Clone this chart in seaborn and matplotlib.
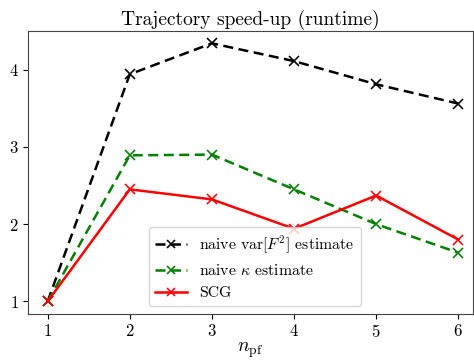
import matplotlib
matplotlib.use("Agg")
import matplotlib.pyplot as plt
import seaborn as sns
import pandas as pd

n_pf = [1, 2, 3, 4, 5, 6]
naive_var = [1.0, 3.94, 4.34, 4.11, 3.81, 3.56]
naive_kappa = [1.0, 2.89, 2.90, 2.45, 2.00, 1.63]
scg = [1.0, 2.45, 2.32, 1.94, 2.37, 1.80]
labels = [r"naive var$[F^2]$ estimate", r"naive $\kappa$ estimate", "SCG"]

plt.rcParams["font.family"] = "serif"
plt.rcParams["font.serif"] = ["cmr10", "DejaVu Serif"]
plt.rcParams["mathtext.fontset"] = "cm"
plt.rcParams["axes.formatter.use_mathtext"] = True

fig = plt.figure(figsize=(4.74, 3.6), dpi=100)
ax = fig.add_axes([0.059, 0.127, 0.939, 0.787])

styles = [("black", (0, (4, 2.2))), ("green", (0, (4, 2.2))), ("red", "-")]
for ys, lab, (c, ls) in zip([naive_var, naive_kappa, scg], labels, styles):
    df = pd.DataFrame({"x": n_pf, "y": ys})
    sns.lineplot(data=df, x="x", y="y", ax=ax, color=c, linestyle=ls,
                 marker="x", markersize=7, markeredgewidth=1.15,
                 markeredgecolor=c, markerfacecolor=c,
                 linewidth=1.8, label=lab)

ax.set_xlim(0.76, 6.18)
ax.set_ylim(0.833, 4.5)
ax.set_xticks(n_pf)
ax.set_yticks([1, 2, 3, 4])
ax.tick_params(labelsize=12, pad=3)
ax.set_xlabel(r"$n_{\rm pf}$", fontsize=14, labelpad=0)
ax.set_ylabel("")
ax.set_title("Trajectory speed-up (runtime)", fontsize=14, pad=4)
for s in ax.spines.values():
    s.set_color("#444444")
leg = ax.legend(loc="lower center", fontsize=11.3, bbox_to_anchor=(0.51, 0.0),
                handlelength=2.0, markerscale=0.85)
fig.savefig("out.png", dpi=100)
